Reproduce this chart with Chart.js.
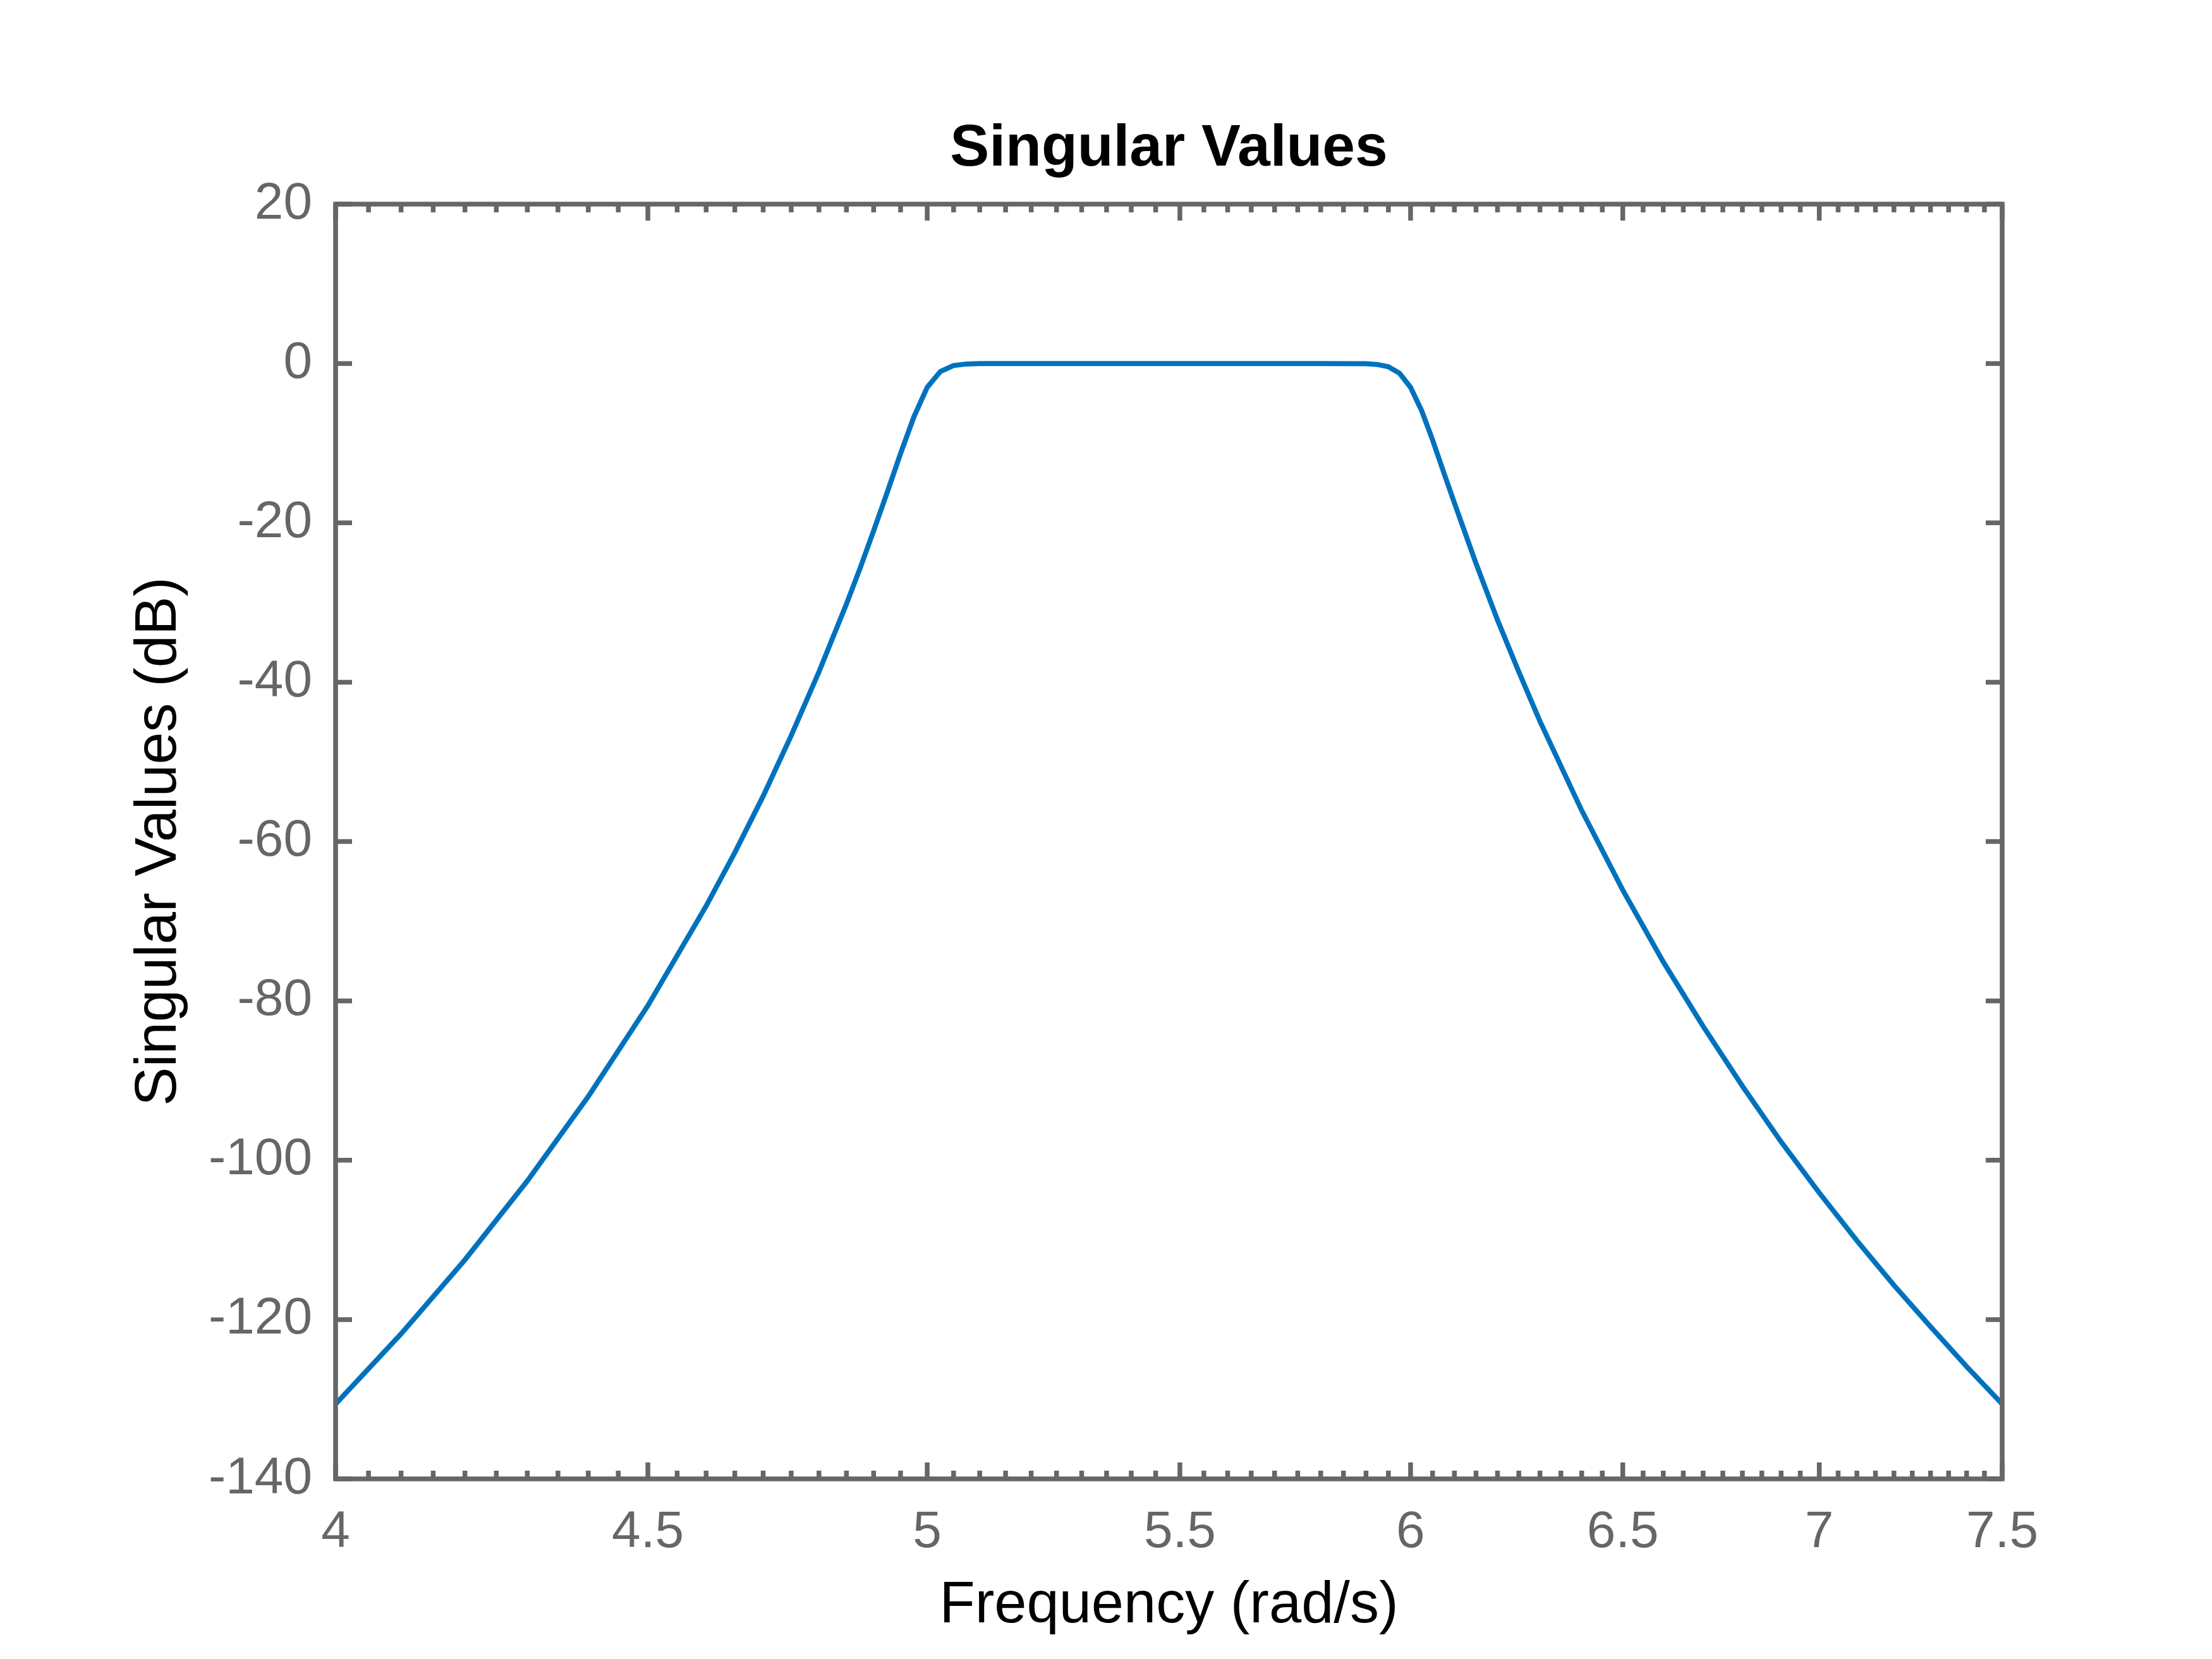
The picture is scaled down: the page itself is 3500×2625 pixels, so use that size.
<!DOCTYPE html>
<html>
<head>
<meta charset="utf-8">
<title>Singular Values</title>
<script src="https://cdn.jsdelivr.net/npm/chart.js@4.4.1/dist/chart.umd.min.js"></script>
<style>
    html, body { margin: 0; padding: 0; background: #ffffff; }
    #chartWrap { width: 3500px; height: 2625px; }
</style>
</head>
<body>
<div id="chartWrap"><canvas id="sigmaChart" width="3500" height="2625" style="width:3500px;height:2625px"></canvas></div>
<script>
// Frequency grid (rad/s) and singular values (dB)
const freqs = [4.0, 4.1, 4.2, 4.3, 4.4, 4.5, 4.6, 4.65, 4.7, 4.75, 4.8, 4.85, 4.875, 4.9, 4.925, 4.95, 4.975,
    5.0, 5.025, 5.05, 5.075, 5.1, 5.2, 5.3, 5.4, 5.5, 5.6, 5.7, 5.8, 5.9, 5.925, 5.95, 5.975,
    6.0, 6.025, 6.05, 6.075, 6.1, 6.15, 6.2, 6.25, 6.3, 6.4, 6.5, 6.6, 6.7, 6.8, 6.9, 7.0, 7.1, 7.2, 7.3, 7.4, 7.5];
const singularValues = [-130.6, -121.8, -112.5, -102.6, -92.0, -80.6, -68.1, -61.4, -54.3, -46.7, -38.7, -30.2, -25.7, -21.0, -16.2, -11.3, -6.7,
    -3.0, -1.0, -0.26, -0.06, -0.01, 0, 0, 0, 0, 0, 0, -0.01, -0.03, -0.12, -0.41, -1.22,
    -3.0, -5.9, -9.6, -13.6, -17.5, -25.1, -32.2, -38.7, -44.9, -56.1, -66.1, -75.1, -83.2, -90.7, -97.7, -104.1, -110.1, -115.7, -120.9, -125.9, -130.6];

// Axis ticks
const xMajorTicks = [4, 4.5, 5, 5.5, 6, 6.5, 7, 7.5];
const xMinorStep = 0.05;
const yTicks = [-140, -120, -100, -80, -60, -40, -20, 0, 20];

const AXIS_COLOR = '#666666';
const LINE_COLOR = '#0072BD';
const FONT = "'Liberation Sans', Arial, Helvetica, sans-serif";

const points = freqs.map((f, i) => ({ x: f, y: singularValues[i] }));

function isMajor(v) {
    return xMajorTicks.some(m => Math.abs(m - v) < 1e-6);
}

// MATLAB style box with inward tick marks on all four sides
const axesBox = {
    id: 'axesBox',
    afterDatasetsDraw(chart) {
        const { ctx, chartArea: a, scales: { x, y } } = chart;
        ctx.save();
        ctx.strokeStyle = AXIS_COLOR;
        ctx.lineWidth = 7.5;
        ctx.lineCap = 'butt';
        ctx.beginPath();
        x.ticks.forEach(t => {
            const px = x.getPixelForValue(t.value);
            const len = isMajor(t.value) ? 26 : 13;
            ctx.moveTo(px, a.bottom);
            ctx.lineTo(px, a.bottom - len);
            ctx.moveTo(px, a.top);
            ctx.lineTo(px, a.top + len);
        });
        y.ticks.forEach(t => {
            const py = y.getPixelForValue(t.value);
            ctx.moveTo(a.left, py);
            ctx.lineTo(a.left + 26, py);
            ctx.moveTo(a.right, py);
            ctx.lineTo(a.right - 26, py);
        });
        ctx.stroke();
        ctx.strokeRect(a.left, a.top, a.right - a.left, a.bottom - a.top);
        ctx.restore();
    }
};

document.addEventListener('DOMContentLoaded', function() {
    const ctx = document.getElementById('sigmaChart');

    new Chart(ctx, {
        type: 'line',
        data: {
            datasets: [{
                data: points,
                borderColor: LINE_COLOR,
                borderWidth: 8,
                pointRadius: 0,
                tension: 0,
                fill: false
            }]
        },
        options: {
            responsive: false,
            animation: false,
            devicePixelRatio: 1,
            layout: { padding: { left: 0, right: 332, top: 0, bottom: 0 } },
            plugins: {
                legend: { display: false },
                tooltip: { enabled: false },
                title: {
                    display: true,
                    fullSize: false,
                    text: 'Singular Values',
                    color: '#000000',
                    font: { family: FONT, size: 93, weight: 'bold' },
                    padding: { top: 181, bottom: 30.4 }
                }
            },
            scales: {
                x: {
                    type: 'logarithmic',
                    min: 4,
                    max: 7.5,
                    grid: { display: false, drawTicks: false },
                    border: { display: false },
                    afterBuildTicks: scale => {
                        const ticks = [];
                        const n = Math.round((7.5 - 4) / xMinorStep);
                        for (let i = 0; i <= n; i++) {
                            ticks.push({ value: +(4 + i * xMinorStep).toFixed(2) });
                        }
                        scale.ticks = ticks;
                    },
                    afterFit: scale => { scale.height = 285; },
                    ticks: {
                        autoSkip: false,
                        maxRotation: 0,
                        minRotation: 0,
                        padding: 36,
                        color: AXIS_COLOR,
                        font: { family: FONT, size: 82 },
                        callback: value => isMajor(value) ? String(value) : ''
                    },
                    title: {
                        display: true,
                        text: 'Frequency (rad/s)',
                        color: '#000000',
                        font: { family: FONT, size: 92 },
                        padding: { top: 0, bottom: 28 }
                    }
                },
                y: {
                    type: 'linear',
                    min: -140,
                    max: 20,
                    grid: { display: false, drawTicks: false },
                    border: { display: false },
                    afterBuildTicks: scale => {
                        scale.ticks = yTicks.map(v => ({ value: v }));
                    },
                    afterFit: scale => { scale.width = 531; },
                    ticks: {
                        padding: 37,
                        color: AXIS_COLOR,
                        font: { family: FONT, size: 82 },
                        callback: value => String(value)
                    },
                    title: {
                        display: true,
                        text: 'Singular Values (dB)',
                        color: '#000000',
                        font: { family: FONT, size: 92 },
                        padding: { top: 197, bottom: 0 }
                    }
                }
            }
        },
        plugins: [axesBox]
    });
});
</script>
</body>
</html>
